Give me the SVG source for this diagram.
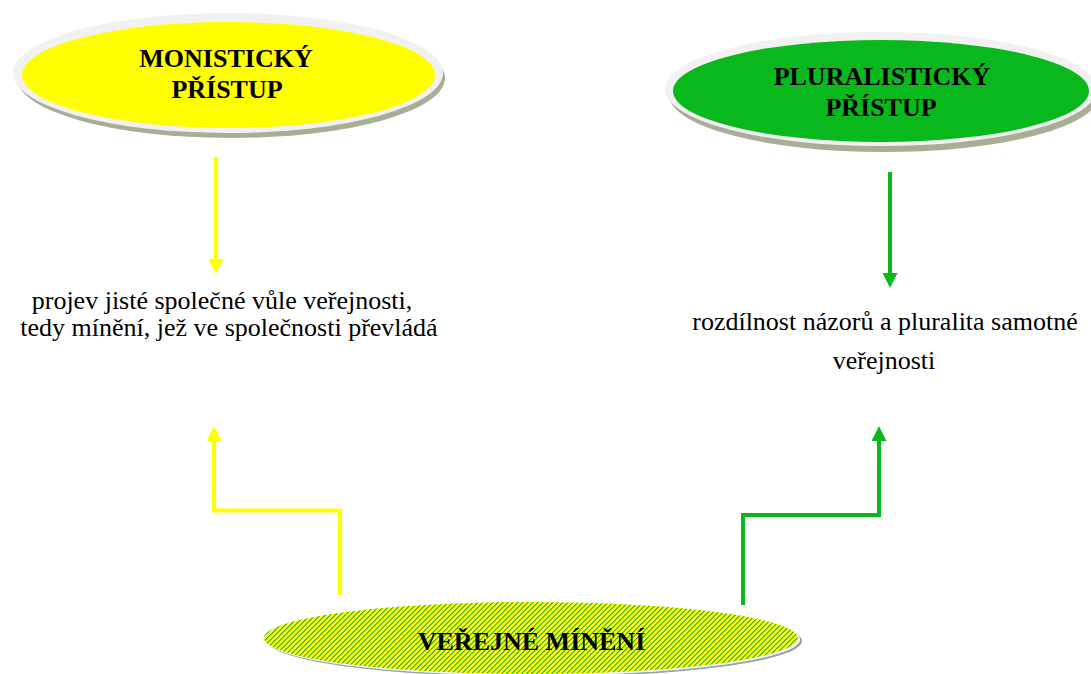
<svg xmlns="http://www.w3.org/2000/svg" width="1091" height="674" viewBox="0 0 1091 674">
<style>
.title{font-family:"Liberation Serif","Times New Roman",serif;font-weight:bold;font-size:26px;fill:#000;text-anchor:middle}
.body{font-family:"Liberation Serif","Times New Roman",serif;font-size:26px;fill:#000;text-anchor:middle}
.rim{fill:#f1f1f1}
.shadow{fill:#a8ad96}
.conn{fill:none;stroke-width:4;stroke-linejoin:miter}
.y{stroke:#ffff00}
.g{stroke:#08b81c}
.dk{fill:#2eaa3e}
.lt{fill:#8fcf2e}
</style>
<defs>
<marker id="ay" viewBox="0 0 15 15" markerWidth="15" markerHeight="15" refX="0" refY="7.5" orient="auto" markerUnits="userSpaceOnUse">
<path d="M0,0 L15,7.5 L0,15 z" fill="#ffff00"/>
</marker>
<marker id="ag" viewBox="0 0 15 15" markerWidth="15" markerHeight="15" refX="0" refY="7.5" orient="auto" markerUnits="userSpaceOnUse">
<path d="M0,0 L15,7.5 L0,15 z" fill="#08b81c"/>
</marker>
<pattern id="stripes" x="0" y="0" width="5" height="5" patternUnits="userSpaceOnUse">
<rect width="5" height="5" fill="#ffff00"/>
<rect class="dk" x="4" y="0" width="1" height="1"/><rect class="lt" x="0" y="0" width="1" height="1"/>
<rect class="dk" x="3" y="1" width="1" height="1"/><rect class="lt" x="4" y="1" width="1" height="1"/>
<rect class="dk" x="2" y="2" width="1" height="1"/><rect class="lt" x="3" y="2" width="1" height="1"/>
<rect class="dk" x="1" y="3" width="1" height="1"/><rect class="lt" x="2" y="3" width="1" height="1"/>
<rect class="dk" x="0" y="4" width="1" height="1"/><rect class="lt" x="1" y="4" width="1" height="1"/>
</pattern>
</defs>
<rect width="1091" height="674" fill="#ffffff"/>

<g id="node-monisticky">
<ellipse class="shadow" cx="231" cy="78" rx="214" ry="60"/>
<ellipse class="rim" cx="228" cy="73" rx="215" ry="60"/>
<ellipse cx="228.5" cy="75" rx="206.5" ry="53" fill="#ffff00"/>
<text class="title" x="226" y="67">MONISTICKÝ</text>
<text class="title" x="227" y="98">PŘÍSTUP</text>
</g>

<g id="node-pluralisticky">
<ellipse class="shadow" cx="884" cy="95" rx="215" ry="57"/>
<ellipse class="rim" cx="881" cy="89" rx="216" ry="57"/>
<ellipse cx="881" cy="91" rx="208" ry="51" fill="#08b81c"/>
<text class="title" x="882" y="85">PLURALISTICKÝ</text>
<text class="title" x="881" y="116">PŘÍSTUP</text>
</g>

<g id="node-monisticky-text">
<text class="body" x="222" y="309">projev jisté společné vůle veřejnosti,</text>
<text class="body" x="229" y="336">tedy mínění, jež ve společnosti převládá</text>
</g>

<g id="node-pluralisticky-text">
<text class="body" x="885" y="330">rozdílnost názorů a pluralita samotné</text>
<text class="body" x="884" y="369">veřejnosti</text>
</g>

<g id="node-verejne-mineni">
<ellipse cx="535" cy="641" rx="267" ry="36" fill="#93a3b3"/>
<ellipse cx="533" cy="639.5" rx="267" ry="36" fill="#ffffff"/>
<ellipse cx="531" cy="638" rx="267" ry="36" fill="url(#stripes)"/>
<text class="title" x="531.5" y="650" font-size="25">VEŘEJNÉ MÍNĚNÍ</text>
</g>

<g id="connectors">
<path class="conn y" d="M216,157 V259" marker-end="url(#ay)"/>
<path class="conn g" d="M890,172 V273" marker-end="url(#ag)"/>
<path class="conn y" d="M340,595 V510.5 H214 V441" marker-end="url(#ay)"/>
<path class="conn g" d="M743,605 V515 H879 V441" marker-end="url(#ag)"/>
</g>
</svg>
